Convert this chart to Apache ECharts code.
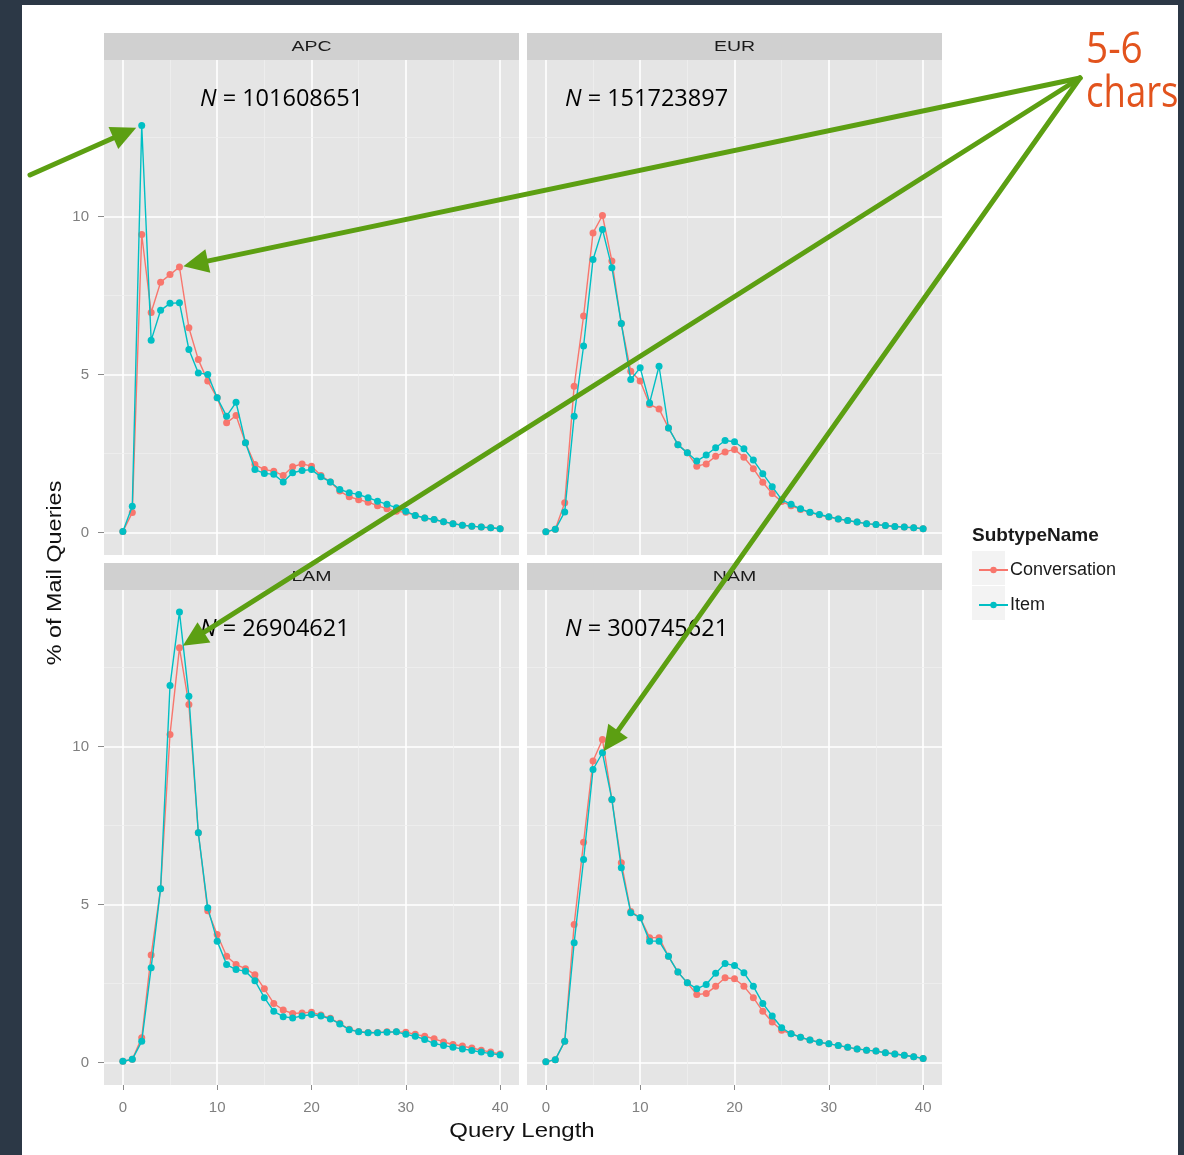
<!DOCTYPE html>
<html><head><meta charset="utf-8">
<script src="https://cdn.jsdelivr.net/npm/echarts@6/dist/echarts.min.js"></script>
<style>
html,body{margin:0;padding:0;background:#2c3846;width:1184px;height:1155px;overflow:hidden}
#paper{position:absolute;left:22px;top:5px;width:1156px;height:1150px;background:#fff}
#chart{position:absolute;left:0;top:0;width:1184px;height:1155px}
</style></head><body><div id="paper"></div><div id="chart"></div>
<script>
// ---------------- data ----------------
const queryLength = [0,1,2,3,4,5,6,7,8,9,10,11,12,13,14,15,16,17,18,19,20,21,22,23,24,25,26,27,28,29,30,31,32,33,34,35,36,37,38,39,40];
const regions = ['APC', 'EUR', 'LAM', 'NAM'];
const regionN = ['101608651', '151723897', '26904621', '300745621'];
const seriesNames = ['Conversation', 'Item'];
const xTickValues = [0, 10, 20, 30, 40];
const yTickValues = [0, 5, 10];
const xMinorValues = [5, 15, 25, 35];
const yMinorValues = [2.5, 7.5, 12.5];

const apcConversation = [0.03,0.63,9.43,6.96,7.92,8.16,8.40,6.48,5.47,4.79,4.26,3.47,3.70,2.84,2.15,1.99,1.94,1.80,2.08,2.17,2.10,1.80,1.60,1.31,1.13,1.04,0.96,0.85,0.75,0.67,0.64,0.54,0.46,0.41,0.34,0.28,0.23,0.20,0.17,0.15,0.12];
const apcItem         = [0.03,0.83,12.88,6.08,7.03,7.25,7.27,5.79,5.05,5.00,4.26,3.68,4.12,2.84,1.99,1.87,1.84,1.60,1.89,1.96,1.99,1.76,1.60,1.36,1.26,1.20,1.10,0.99,0.89,0.78,0.67,0.54,0.46,0.41,0.34,0.28,0.23,0.20,0.17,0.15,0.12];
const eurConversation = [0.02,0.10,0.94,4.63,6.85,9.48,10.03,8.59,6.61,5.10,4.79,4.05,3.91,3.31,2.78,2.52,2.10,2.17,2.41,2.55,2.63,2.38,2.02,1.59,1.23,0.98,0.85,0.73,0.63,0.56,0.49,0.43,0.38,0.33,0.28,0.25,0.22,0.19,0.17,0.15,0.12];
const eurItem         = [0.02,0.10,0.65,3.68,5.90,8.64,9.59,8.38,6.61,4.84,5.21,4.10,5.26,3.31,2.78,2.52,2.26,2.45,2.68,2.91,2.87,2.65,2.29,1.86,1.45,1.04,0.89,0.75,0.64,0.57,0.50,0.43,0.38,0.33,0.28,0.25,0.22,0.19,0.17,0.15,0.12];
const lamConversation = [0.04,0.10,0.78,3.40,5.50,10.38,13.12,11.33,7.27,4.80,4.05,3.36,3.10,2.97,2.78,2.33,1.87,1.66,1.55,1.57,1.59,1.50,1.40,1.24,1.05,0.98,0.95,0.95,0.97,0.97,0.96,0.89,0.83,0.75,0.65,0.57,0.52,0.46,0.39,0.33,0.27];
const lamItem         = [0.04,0.10,0.67,3.00,5.50,11.93,14.25,11.59,7.27,4.90,3.84,3.10,2.94,2.89,2.59,2.05,1.62,1.45,1.41,1.47,1.52,1.47,1.38,1.22,1.04,0.97,0.94,0.94,0.96,0.97,0.89,0.83,0.73,0.60,0.54,0.48,0.43,0.38,0.33,0.28,0.24];
const namConversation = [0.02,0.09,0.67,4.37,6.97,9.54,10.22,8.32,6.32,4.78,4.58,3.95,3.95,3.36,2.86,2.52,2.15,2.18,2.41,2.68,2.65,2.41,2.05,1.62,1.28,1.02,0.91,0.80,0.71,0.64,0.59,0.54,0.48,0.43,0.39,0.36,0.31,0.27,0.23,0.18,0.13];
const namItem         = [0.02,0.09,0.67,3.79,6.42,9.27,9.80,8.32,6.16,4.74,4.58,3.84,3.84,3.36,2.86,2.52,2.33,2.47,2.82,3.13,3.07,2.84,2.41,1.87,1.47,1.10,0.91,0.80,0.71,0.64,0.59,0.54,0.48,0.43,0.39,0.36,0.31,0.27,0.23,0.18,0.13];

const conversationByRegion = [apcConversation, eurConversation, lamConversation, namConversation];
const itemByRegion = [apcItem, eurItem, lamItem, namItem];

// ---------------- layout / style ----------------
const FONT = 'Liberation Sans';
const colors = ['#F8766D', '#00BFC4'];
const panels = [
  {left: 104, top: 60, nx: 200}, {left: 527, top: 60, nx: 565},
  {left: 104, top: 590, nx: 200}, {left: 527, top: 590, nx: 565}
];
const PW = 415, PH = 495, STRIP = 27;
const yMin = -0.712, yMax = 14.95;

const grid = [], xAxis = [], yAxis = [], series = [], graphic = [];

panels.forEach((p, i) => {
  const bottomRow = i >= 2, leftCol = i % 2 === 0;
  grid.push({left: p.left, top: p.top, width: PW, height: PH, show: true,
    backgroundColor: '#e5e5e5', borderWidth: 0, containLabel: false});
  xAxis.push({
    type: 'value', gridIndex: i, min: -2, max: 42,
    axisLine: {show: false, onZero: false},
    axisTick: {show: bottomRow, customValues: xTickValues, length: 5, lineStyle: {color: '#8a8a8a'}},
    axisLabel: {show: bottomRow, customValues: xTickValues, color: '#7f7f7f', fontSize: 15, fontFamily: FONT, margin: 15},
    splitLine: {show: true, lineStyle: {color: '#ffffff', width: 1.6}}
  });
  yAxis.push({
    type: 'value', gridIndex: i, min: yMin, max: yMax,
    axisLine: {show: false, onZero: false},
    axisTick: {show: leftCol, customValues: yTickValues, length: 6, lineStyle: {color: '#8a8a8a'}},
    axisLabel: {show: leftCol, customValues: yTickValues, color: '#7f7f7f', fontSize: 15, fontFamily: FONT, margin: 15},
    splitLine: {show: true, lineStyle: {color: '#ffffff', width: 1.6}}
  });
  // minor grid lines
  series.push({
    type: 'line', xAxisIndex: i, yAxisIndex: i, data: [], z: 1, silent: true,
    markLine: {
      silent: true, symbol: 'none', label: {show: false}, z: 1,
      lineStyle: {color: '#efefef', width: 0.8, type: 'solid'},
      emphasis: {disabled: true},
      data: xMinorValues.map(v => ({xAxis: v})).concat(yMinorValues.map(v => ({yAxis: v})))
    }
  });
  [conversationByRegion[i], itemByRegion[i]].forEach((arr, k) => {
    series.push({
      name: seriesNames[k], type: 'line', xAxisIndex: i, yAxisIndex: i, z: 6 + k,
      data: queryLength.map((x, j) => [x, arr[j]]),
      symbol: 'circle', symbolSize: 7, showSymbol: true, showAllSymbol: true,
      lineStyle: {color: colors[k], width: 1.4},
      itemStyle: {color: colors[k]},
      emphasis: {disabled: true}, animation: false
    });
  });
  // strip
  graphic.push({type: 'rect', shape: {x: p.left, y: p.top - STRIP, width: PW, height: STRIP},
    style: {fill: '#d0d0d0'}, z: 1});
  graphic.push({type: 'text', x: p.left + PW / 2, y: p.top - STRIP / 2, z: 2, scaleX: 1.3,
    style: {text: regions[i], fill: '#1a1a1a', font: '15px "' + FONT + '"', align: 'center', verticalAlign: 'middle'}});
  // N annotation
  graphic.push({type: 'text', x: p.nx, y: p.top + 39, z: 50,
    style: {text: '{i|N} = ' + regionN[i], fill: '#000', font: '23.5px "Open Sans"', verticalAlign: 'middle',
      rich: {i: {fontStyle: 'italic', font: 'italic 23.5px "Open Sans"', fill: '#000'}}}});
});

// legend key backgrounds
[551, 586].forEach(y => graphic.push({type: 'rect', z: 0,
  shape: {x: 972, y: y, width: 33, height: 34}, style: {fill: '#f3f3f3'}}));

// axis titles & legend title
graphic.push({type: 'text', x: 522, y: 1131, z: 10, scaleX: 1.2,
  style: {text: 'Query Length', fill: '#111', font: '20px "' + FONT + '"', align: 'center', verticalAlign: 'middle'}});
graphic.push({type: 'text', x: 55, y: 573, rotation: Math.PI / 2, z: 10, scaleX: 1.17,
  style: {text: '% of Mail Queries', fill: '#111', font: '20px "' + FONT + '"', align: 'center', verticalAlign: 'middle'}});
graphic.push({type: 'text', x: 972, y: 536, z: 10,
  style: {text: 'SubtypeName', fill: '#1a1a1a', font: 'bold 19px "' + FONT + '"', align: 'left', verticalAlign: 'middle'}});
graphic.push({type: 'text', x: 1086, y: 50, z: 10, scaleX: 0.88,
  style: {text: '5-6', fill: '#e2531d', font: '44px "Open Sans"', align: 'left', verticalAlign: 'middle'}});
graphic.push({type: 'text', x: 1086, y: 94, z: 10, scaleX: 0.83,
  style: {text: 'chars', fill: '#e2531d', font: '44px "Open Sans"', align: 'left', verticalAlign: 'middle'}});

const option = {
  animation: false,
  grid, xAxis, yAxis, series, graphic,
  legend: {
    data: seriesNames, orient: 'vertical', left: 973, top: 556,
    itemWidth: 29, itemHeight: 8, itemGap: 17,
    textStyle: {fontSize: 18, color: '#1a1a1a', fontFamily: FONT, padding: [0, 0, 0, -3]}
  }
};

const chart = echarts.init(document.getElementById('chart'), null, {renderer: 'canvas'});
chart.setOption(option);

// ---------------- arrows pointing to 5-6 char peaks ----------------
const GREEN = '#5c9f12';
function arrow(x0, y0, px, py, back) {
  const dx = px - x0, dy = py - y0, L = Math.hypot(dx, dy), ux = dx / L, uy = dy / L;
  const tx = px - ux * back, ty = py - uy * back;
  const headLen = 25, headW = 12;
  const bx = tx - ux * headLen, by = ty - uy * headLen;
  return [
    {type: 'line', z: 100, shape: {x1: x0, y1: y0, x2: bx + ux * 3, y2: by + uy * 3},
      style: {stroke: GREEN, lineWidth: 5, lineCap: 'round'}},
    {type: 'polygon', z: 100, shape: {points: [[tx, ty], [bx - uy * headW, by + ux * headW], [bx + uy * headW, by - ux * headW]]},
      style: {fill: GREEN}}
  ];
}
const pt = (i, x, v) => chart.convertToPixel({xAxisIndex: i, yAxisIndex: i}, [x, v]);
const origin = [1080, 78];
const tApc = pt(0, 2, apcItem[2]);
const tApcC = pt(0, 6, apcConversation[6]);
const tLam = pt(2, 6, lamConversation[6]);
const tNam = pt(3, 6, namItem[6]);
const arrows = []
  .concat(arrow(30, 175, tApc[0], tApc[1], 6))
  .concat(arrow(origin[0], origin[1], tApcC[0], tApcC[1], 4))
  .concat(arrow(origin[0], origin[1], tLam[0], tLam[1], 4))
  .concat(arrow(origin[0], origin[1], tNam[0], tNam[1], 2));
chart.setOption({graphic: graphic.concat(arrows)});
</script></body></html>
